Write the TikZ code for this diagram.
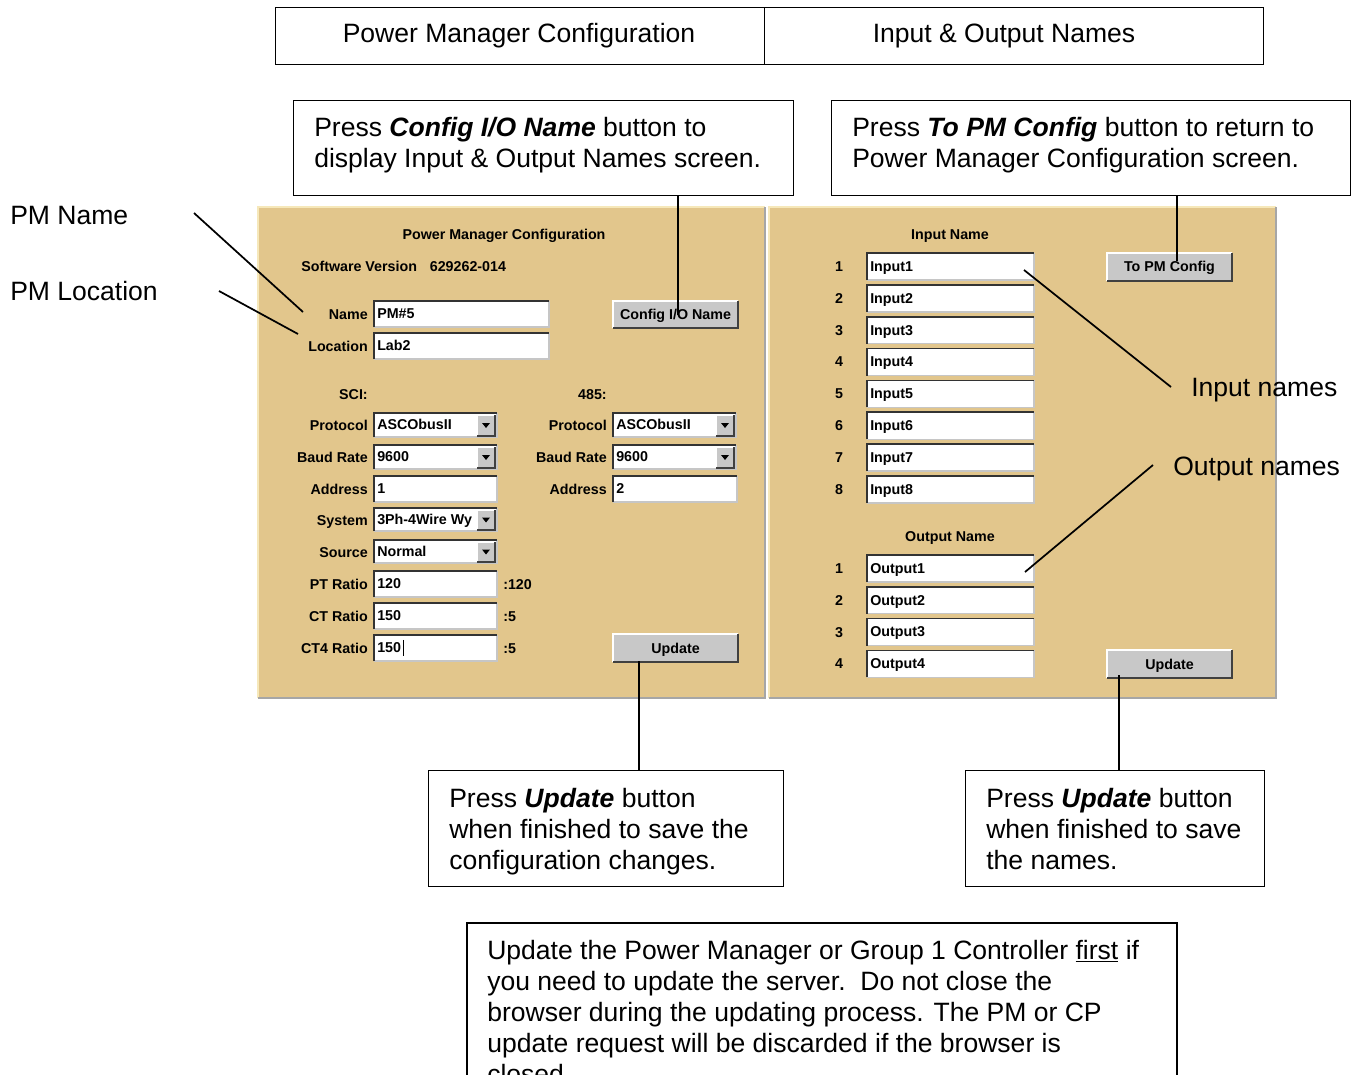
\documentclass[tikz,border=0pt]{standalone}
\usepackage{fontspec}
\setmainfont{Liberation Sans}
\definecolor{tanpanel}{RGB}{226,198,140}
\definecolor{tanlight}{RGB}{246,232,186}
\definecolor{btngray}{RGB}{200,200,200}
\tikzset{
  gui/.style={font=\fontsize{10.7}{12}\selectfont\bfseries, inner sep=0pt},
  guic/.style={gui, yshift=-1pt},
  lbl/.style={gui, anchor=mid east, yshift=-1.3pt},
  ftext/.style={gui, anchor=mid west, yshift=-1pt},
  big/.style={font=\fontsize{19.9}{23.3}\selectfont, inner sep=0pt},
  tabtext/.style={big, yshift=-2.3pt},
  side/.style={big, anchor=mid west, yshift=-4.5pt},
  callout/.style={draw=black, line width=0.9pt, fill=white},
  leader/.style={draw=black, line width=1.3pt},
  panel/.style={fill=tanpanel}
}
% field: name, x1, y1, x2, y2, text
\newcommand\guifield[6]{%
  \fill[white] (#2,#3) rectangle (#4,#5);
  \draw[gray!45, line width=1pt] (#2,#5) -- (#4,#5) -- (#4,#3);
  \draw[black!80, line width=1.3pt] (#2,#5) -- (#2,#3) -- (#4,#3);
  \node[ftext] (#1) at ({#2+3},{(#3+#5)/2}) {#6};}
% combo: name, x1, y1, x2, y2, text
\newcommand\guicombo[6]{%
  \guifield{#1}{#2}{#3}{#4}{#5}{#6}
  \fill[btngray] ({#4-20},{#3+2}) rectangle ({#4-2},{#5-1});
  \draw[white, line width=0.8pt] ({#4-20},{#5-1}) -- ({#4-20},{#3+2}) -- ({#4-2},{#3+2});
  \draw[black!75, line width=1pt] ({#4-20},{#5-1}) -- ({#4-2},{#5-1}) -- ({#4-2},{#3+2});
  \fill[black] ({#4-15},{(#3+#5)/2-2}) -- ({#4-7},{(#3+#5)/2-2}) -- ({#4-11},{(#3+#5)/2+3}) -- cycle;}
% button: name, x1, y1, x2, y2, text
\newcommand\guibutton[6]{%
  \fill[btngray] (#2,#3) rectangle (#4,#5);
  \draw[white, line width=1pt] (#2,#5) -- (#2,#3) -- (#4,#3);
  \draw[black!75, line width=1.3pt] (#2,#5) -- (#4,#5) -- (#4,#3);
  \node[guic] (#1) at ({(#2+#4)/2},{(#3+#5)/2}) {#6};}
\begin{document}
\begin{tikzpicture}[x=0.75pt,y=-0.75pt]
\useasboundingbox (0,0) rectangle (1359,1074);
\clip (0,0) rectangle (1359,1074);
\fill[white] (0,0) rectangle (1359,1074);

% header tabs
\node[draw=black, line width=0.9pt, minimum width=489*0.75pt, minimum height=57*0.75pt, anchor=north west] (tab1) at (275,7) {};
\node[tabtext] (tab1t) at (519,33) {Power Manager Configuration};
\node[draw=black, line width=0.9pt, minimum width=499*0.75pt, minimum height=57*0.75pt, anchor=north west] (tab2) at (764,7) {};
\node[tabtext] (tab2t) at (1004,33) {Input \& Output Names};

% panels
\fill[panel] (258,207) rectangle (765,698);
\draw[tanlight, line width=1.5pt] (258,698) -- (258,207) -- (765,207);
\draw[gray!70, line width=1pt] (258,698) -- (765,698) -- (765,207);
\fill[panel] (769,207) rectangle (1276,698);
\draw[tanlight, line width=1.5pt] (769,698) -- (769,207) -- (1276,207);
\draw[gray!70, line width=1pt] (769,698) -- (1276,698) -- (1276,207);

% ---- left panel ----
\node[guic] (lt) at (504,235) {Power Manager Configuration};
\node[gui, anchor=mid west, yshift=-1.3pt] (sv) at (301,266) {Software Version\hspace{0.9em}629262-014};
\node[lbl] (lname) at (368,314) {Name};
\guifield{fname}{374}{301}{549}{327}{PM\#5}
\node[lbl] (lloc) at (368,346) {Location};
\guifield{floc}{374}{333}{549}{359}{Lab2}
\guibutton{bcfg}{613}{301}{738}{328}{Config I/O Name}

\node[lbl] (lsci) at (368,394) {SCI:};
\node[lbl] (l485) at (607,394) {485:};
\node[lbl] (lp1) at (368,425) {Protocol};
\guicombo{cp1}{374}{413}{497}{437}{ASCObusII}
\node[lbl] (lp2) at (607,425) {Protocol};
\guicombo{cp2}{613}{413}{736}{437}{ASCObusII}
\node[lbl] (lb1) at (368,457) {Baud Rate};
\guicombo{cb1}{374}{445}{497}{469}{9600}
\node[lbl] (lb2) at (607,457) {Baud Rate};
\guicombo{cb2}{613}{445}{736}{469}{9600}
\node[lbl] (la1) at (368,489) {Address};
\guifield{fa1}{374}{476}{497}{502}{1}
\node[lbl] (la2) at (607,489) {Address};
\guifield{fa2}{613}{476}{737}{502}{2}
\node[lbl] (lsys) at (368,520) {System};
\guicombo{csys}{374}{508}{497}{531}{3Ph-4Wire Wy}
\node[lbl] (lsrc) at (368,552) {Source};
\guicombo{csrc}{374}{540}{497}{563}{Normal}
\node[lbl] (lpt) at (368,584) {PT Ratio};
\guifield{fpt}{374}{571}{497}{597}{120}
\node[gui, anchor=mid west, yshift=-1.3pt] (spt) at (503,584) {:120};
\node[lbl] (lct) at (368,616) {CT Ratio};
\guifield{fct}{374}{603}{497}{629}{150}
\node[gui, anchor=mid west, yshift=-1.3pt] (sct) at (503,616) {:5};
\node[lbl] (lct4) at (368,648) {CT4 Ratio};
\guifield{fct4}{374}{635}{497}{661}{150}
\draw[black, line width=0.6pt] ([xshift=1.5pt]fct4.east) ++(0,-8) -- ++(0,16);
\node[gui, anchor=mid west, yshift=-1.3pt] (sct4) at (503,648) {:5};
\guibutton{bupd1}{613}{634}{738}{662}{Update}

% ---- right panel ----
\node[guic] (rt) at (950,235) {Input Name};
\foreach \i in {1,...,8} {
  \pgfmathsetmacro\yt{253+31.85*(\i-1)}
  \node[gui] (inum\i) at (839,{\yt+13.5}) {\i};
  \guifield{in\i}{867}{\yt}{1034}{\yt+27}{Input\i}
}
\guibutton{btopm}{1107}{253}{1232}{281}{To PM Config}
\node[guic] (ro) at (950,537) {Output Name};
\foreach \i in {1,...,4} {
  \pgfmathsetmacro\yt{555+31.8*(\i-1)}
  \node[gui] (onum\i) at (839,{\yt+13.5}) {\i};
  \guifield{out\i}{867}{\yt}{1034}{\yt+27}{Output\i}
}
\guibutton{bupd2}{1107}{650}{1232}{678}{Update}

% ---- callouts ----
\node[callout, minimum width=500*0.75pt, minimum height=95*0.75pt, anchor=north west] (c1) at (293,100) {};
\node[big, align=left, anchor=north west] (c1t) at (314,117) {Press \textbf{\textit{Config I/O Name}} button to\\display Input \& Output Names screen.};
\node[callout, minimum width=519*0.75pt, minimum height=95*0.75pt, anchor=north west] (c2) at (831,100) {};
\node[big, align=left, anchor=north west] (c2t) at (852,117) {Press \textbf{\textit{To PM Config}} button to return to\\Power Manager Configuration screen.};
\node[callout, minimum width=355*0.75pt, minimum height=116*0.75pt, anchor=north west] (c3) at (428,770) {};
\node[big, align=left, anchor=north west] (c3t) at (449,788) {Press \textbf{\textit{Update}} button\\when finished to save the\\configuration changes.};
\node[callout, minimum width=299*0.75pt, minimum height=116*0.75pt, anchor=north west] (c4) at (965,770) {};
\node[big, align=left, anchor=north west] (c4t) at (986,788) {Press \textbf{\textit{Update}} button\\when finished to save\\the names.};

\draw[callout] (467,1085) -- (467,923) -- (1177,923) -- (1177,1085);
\coordinate (c5) at (467,923);
\node[big, align=left, anchor=north west] (c5t) at (487,940) {Update the Power Manager or Group 1 Controller \underline{first} if\\you need to update the server.\ \ Do not close the\\browser during the updating process. The PM or CP\\update request will be discarded if the browser is\\closed.};

% side labels
\node[side] (pmname) at (10,215) {PM Name};
\node[side] (pmloc) at (10,291) {PM Location};
\node[side] (inl) at (1191,387) {Input names};
\node[side] (outl) at (1173,466) {Output names};

% leaders
\coordinate (pn1) at (194,213);
\coordinate (pn2) at (303,312);
\coordinate (pl1) at (219,291);
\coordinate (pl2) at (298,334);
\draw[leader] (pn1) -- (pn2);
\draw[leader] (pl1) -- (pl2);
\draw[leader] (c1.south -| 678,0) -- (678,315);
\draw[leader] (c2.south -| 1177,0) -- (btopm.north -| 1177,0);
\draw[leader] (c3.north -| 639,0) -- (639,661);
\draw[leader] (c4.north -| 1119,0) -- (1119,675);
\coordinate (i1) at (1171,387);
\coordinate (i2) at (1024,270);
\draw[leader] (i1) -- (i2);
\coordinate (o1) at (1153,465);
\coordinate (o2) at (1025,572);
\draw[leader] (o1) -- (o2);
\end{tikzpicture}
\end{document}
